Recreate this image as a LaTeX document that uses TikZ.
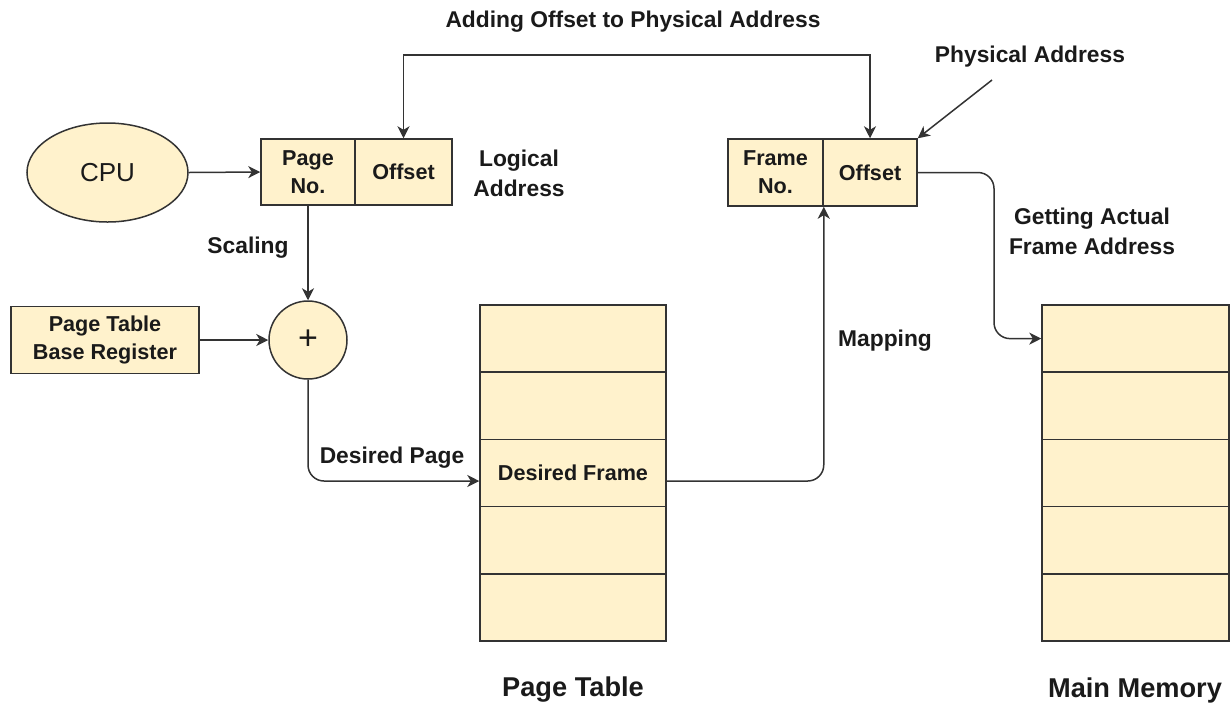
\documentclass[tikz,border=0pt]{standalone}
\usepackage{fontspec}
\setmainfont{Liberation Sans}
\usetikzlibrary{shapes.geometric,arrows.meta,calc}
\definecolor{cream}{HTML}{FFF2CC}
\definecolor{edge}{HTML}{333333}
\definecolor{ink}{HTML}{1A1A1A}
\begin{document}
\begin{tikzpicture}[x=0.5pt,y=-0.5pt,
  box/.style={draw=edge,fill=cream,line width=0.75pt,inner sep=0pt,align=center,
    font=\fontsize{10.8}{14}\selectfont\bfseries,text=ink},
  lbl/.style={align=center,font=\fontsize{11.4}{15}\selectfont\bfseries,text=ink},
  big/.style={align=center,font=\fontsize{13.6}{16}\selectfont\bfseries,text=ink},
  tip/.tip={Stealth[length=6pt,width=6pt,inset=1.8pt]},
  conn/.style={draw=edge,line width=0.75pt,-tip},
  row/.style={box,minimum height=33.6pt}]
\useasboundingbox (0,0) rectangle (1231,708);
% CPU
\node[ellipse,draw=edge,fill=cream,line width=0.75pt,minimum width=80.5pt,minimum height=49.5pt,
  font=\fontsize{13}{15}\selectfont,text=ink] (cpu) at (107.5,172.5) {CPU};
% logical address
\node[box,minimum width=47pt,minimum height=33pt] (pno) at (308,172) {Page\\No.};
\node[box,minimum width=48.5pt,minimum height=33pt] (loff) at (403.5,172) {Offset};
% physical address
\node[box,minimum width=47.5pt,minimum height=33.5pt] (fno) at (775.5,172.5) {Frame\\No.};
\node[box,minimum width=47pt,minimum height=33.5pt] (foff) at (870,172.5) {Offset};
% adder
\node[circle,draw=edge,fill=cream,line width=0.75pt,minimum size=39pt,inner sep=0pt,
  font=\fontsize{17}{18}\selectfont,text=ink] (plus) at (308,340) {+};
\node[box,minimum width=94pt,minimum height=33.5pt] (ptbr) at (105,340) {Page Table\\Base Register};
% page table
\node[row,minimum width=93pt] (pt1) at (573,338.6) {};
\node[row,minimum width=93pt] (pt2) at (573,405.8) {};
\node[row,minimum width=93pt] (pt3) at (573,473) {Desired Frame};
\node[row,minimum width=93pt] (pt4) at (573,540.2) {};
\node[row,minimum width=93pt] (pt5) at (573,607.4) {};
% main memory
\node[row,minimum width=93.5pt] (mm1) at (1135.5,338.6) {};
\node[row,minimum width=93.5pt] (mm2) at (1135.5,405.8) {};
\node[row,minimum width=93.5pt] (mm3) at (1135.5,473) {};
\node[row,minimum width=93.5pt] (mm4) at (1135.5,540.2) {};
\node[row,minimum width=93.5pt] (mm5) at (1135.5,607.4) {};
% labels
\node[lbl] (la) at (519,173) {Logical\\Address};
\node[lbl] (sc) at (248,248) {Scaling};
\node[lbl] (dp) at (392,458) {Desired Page};
\node[lbl] (mp) at (885,341) {Mapping};
\node[lbl] (ga) at (1092,231) {Getting Actual\\Frame Address};
\node[lbl] (ao) at (633,22) {Adding Offset to Physical Address};
\node[lbl] (pa) at (1030,57) {Physical Address};
\node[big] (ptl) at (573,690) {Page Table};
\node[big] (mml) at (1135,690) {Main Memory};
% coordinates
\coordinate (topy) at (0,55);
\coordinate (pas) at (992,80);
\coordinate (gx) at (994,0);
\coordinate (dpin) at ([yshift=-4pt]pt3.west);
\coordinate (dfout) at ([yshift=-4pt]pt3.east);
% connectors
\draw[conn] (cpu.east) -- (pno.west);
\draw[conn] (pno.south) -- (plus.north);
\draw[conn] (ptbr.east) -- (plus.west);
\draw[conn,rounded corners=8pt] (plus.south) |- (dpin);
\draw[conn,rounded corners=8pt] (dfout) -| (fno.south east);
\draw[draw=edge,line width=0.75pt,tip-tip]
  (loff.north) |- (topy -| foff.north) -- (foff.north);
\draw[conn] (pas) -- (foff.north east);
\draw[conn,rounded corners=8pt] (foff.east) -| (gx |- mm1.west) -- (mm1.west);
\end{tikzpicture}
\end{document}
